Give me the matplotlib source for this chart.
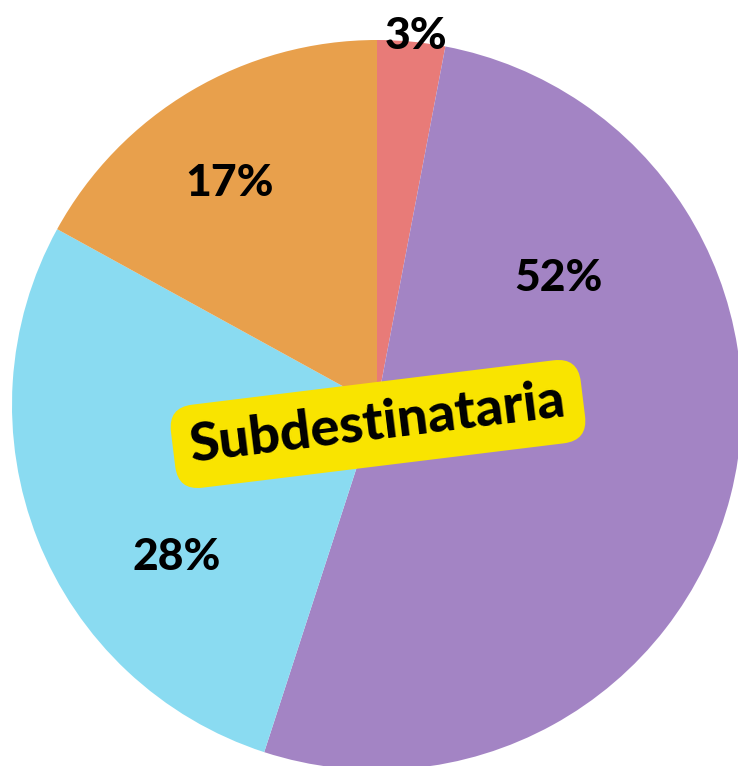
import matplotlib.pyplot as plt

# slices clockwise from the top
labels = ['3%', '52%', '28%', '17%']
values = [3, 52, 28, 17]
colors = ['#E87B78', '#A384C4', '#8ADBF1', '#E8A04C']
title = 'Subdestinataria'

fig = plt.figure(figsize=(7.38, 7.66), dpi=100)
ax = fig.add_axes([0, 0, 1, 1])

r = 365.0
ax.pie(values, colors=colors, startangle=90, counterclock=False, radius=1,
       wedgeprops=dict(linewidth=0))

# pixel -> data (centre at 377,405 px)
ax.set_xlim(-377 / r, (738 - 377) / r)
ax.set_ylim(-(766 - 405) / r, 405 / r)
ax.set_aspect('equal')
ax.axis('off')

def px(x, y):
    return (x - 377) / r, (405 - y) / r

lab_pos = [(416, 36), (559, 278), (177, 557), (230, 183)]
for t, (x, y) in zip(labels, lab_pos):
    ax.text(*px(x, y), t, ha='center', va='center', fontsize=32,
            fontweight='black', family=['Lato', 'DejaVu Sans'], color='black')

ax.text(*px(378, 424), title, ha='center', va='center', fontsize=39,
        fontweight='black', family=['Lato', 'DejaVu Sans'], color='black',
        rotation=7, rotation_mode='anchor',
        bbox=dict(boxstyle='round,pad=0.32,rounding_size=0.45',
                  fc='#F9E400', ec='none'))

fig.savefig('out.png', dpi=100)
